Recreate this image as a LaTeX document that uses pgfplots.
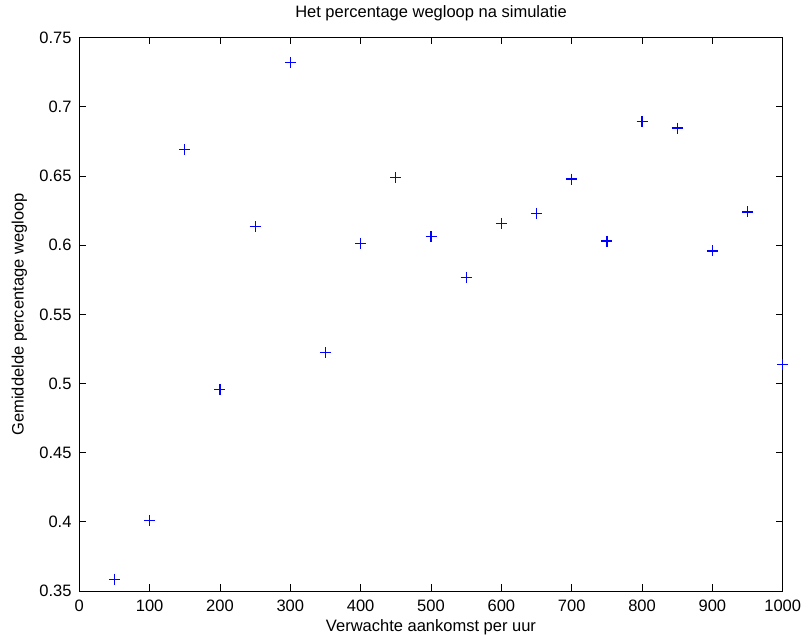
\documentclass[border=0pt]{standalone}
\usepackage{fontspec}
\setmainfont{Liberation Sans}
\usepackage{pgfplots}
\pgfplotsset{compat=1.18}
\begin{document}
\fontsize{16.5}{19}\selectfont
\begin{tikzpicture}
\useasboundingbox (-79.3pt,-46pt) rectangle (721.7pt,591pt);
\begin{axis}[
  scale only axis,
  width=703.4pt, height=553.3pt,
  at={(0,0)}, anchor=south west,
  xmin=0, xmax=1000, ymin=0.35, ymax=0.75,
  xtick={0,100,...,1000},
  ytick={0.35,0.4,0.45,0.5,0.55,0.6,0.65,0.7,0.75},
  tick align=inside,
  xtick pos=both, ytick pos=both,
  major tick length=6.7pt,
  tick style={black, line width=0.9pt},
  axis line style={black, line width=0.9pt},
  scaled ticks=false,
  /pgf/number format/assume math mode=true,
  /pgf/number format/1000 sep={},
  xticklabel style={anchor=center, inner sep=0pt, yshift=-14.7pt},
  yticklabel style={anchor=east, inner sep=0pt, xshift=-7.6pt},
  yticklabel={\pgfmathprintnumber[fixed,precision=2]{\tick}},
  title={Het percentage wegloop na simulatie},
  title style={at={(axis description cs:0.5,1.0333)}, anchor=center, inner sep=0pt},
  xlabel={Verwachte aankomst per uur},
  xlabel style={at={(axis description cs:0.5,-0.0651)}, anchor=center, inner sep=0pt},
  ylabel={Gemiddelde percentage wegloop},
  ylabel style={at={(axis description cs:-0.0853,0.5)}, anchor=center, inner sep=0pt},
  clip=false,
]
\addplot[only marks, mark=+, mark size=5.5pt, color=blue, line width=1.3pt] coordinates {
(50,0.3585) (100,0.401) (150,0.669) (200,0.4958) (250,0.6133)
(300,0.7322) (350,0.5223) (400,0.6013) (450,0.6488) (500,0.6061)
(550,0.5767) (600,0.6158) (650,0.623) (700,0.6478) (750,0.603)
(800,0.6893) (850,0.6847) (900,0.5958) (950,0.624) (1000,0.5139)
};
\end{axis}
\end{tikzpicture}
\end{document}
